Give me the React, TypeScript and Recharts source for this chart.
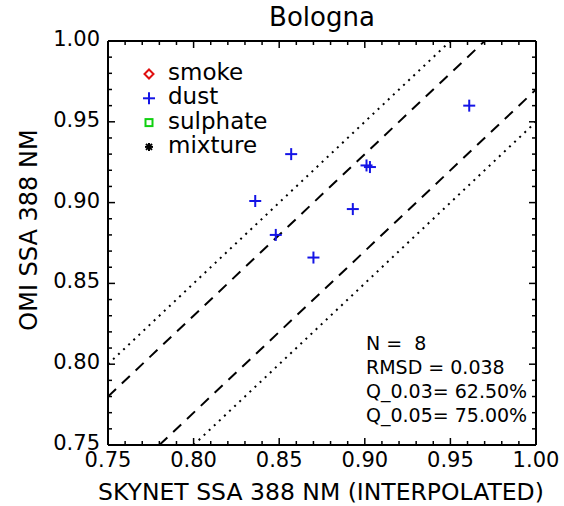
import { ScatterChart, Scatter, XAxis, YAxis, ReferenceLine, Legend } from 'recharts';

type Pt = { x: number; y: number };

const CATEGORIES = ['smoke', 'dust', 'sulphate', 'mixture'];
const SMOKE: Pt[] = [];
const DUST: Pt[] = [
  { x: 0.961, y: 0.960 },
  { x: 0.857, y: 0.930 },
  { x: 0.901, y: 0.923 },
  { x: 0.903, y: 0.922 },
  { x: 0.836, y: 0.901 },
  { x: 0.893, y: 0.896 },
  { x: 0.848, y: 0.880 },
  { x: 0.870, y: 0.866 },
];
const SULPHATE: Pt[] = [];
const MIXTURE: Pt[] = [];

const TICKS = [
  0.75, 0.76, 0.77, 0.78, 0.79, 0.8, 0.81, 0.82, 0.83, 0.84, 0.85, 0.86, 0.87,
  0.88, 0.89, 0.9, 0.91, 0.92, 0.93, 0.94, 0.95, 0.96, 0.97, 0.98, 0.99, 1.0,
];
const DOMAIN: [number, number] = [0.75, 1.0];
const DASHED_OFFSETS = [0.03, -0.03];
const DOTTED_OFFSETS = [0.05, -0.05];
const STATS = ['N =  8', 'RMSD = 0.038', 'Q_0.03= 62.50%', 'Q_0.05= 75.00%'];

const FONT = '"DejaVu Sans", Verdana, sans-serif';
const COLORS: Record<string, string> = {
  smoke: '#e01010',
  dust: '#1414e6',
  sulphate: '#10d010',
  mixture: '#000',
};

const isMajor = (v: number) => Math.round(v * 100) % 5 === 0;

// segment of y = x + d clipped to the square domain
function band(d: number) {
  const x0 = Math.max(DOMAIN[0], DOMAIN[0] - d);
  const x1 = Math.min(DOMAIN[1], DOMAIN[1] - d);
  return [{ x: x0, y: x0 + d }, { x: x1, y: x1 + d }];
}

function Marker({ kind, cx, cy }: { kind: string; cx: number; cy: number }) {
  const c = COLORS[kind];
  if (kind === 'smoke') {
    return <path d={`M${cx},${cy - 4.5}L${cx + 4.5},${cy}L${cx},${cy + 4.5}L${cx - 4.5},${cy}Z`} fill="none" stroke={c} strokeWidth={2} />;
  }
  if (kind === 'sulphate') {
    return <rect x={cx - 3.5} y={cy - 3.5} width={7} height={7} fill="none" stroke={c} strokeWidth={2} />;
  }
  if (kind === 'mixture') {
    return (
      <g stroke={c} strokeWidth={2}>
        <line x1={cx - 4} y1={cy} x2={cx + 4} y2={cy} />
        <line x1={cx} y1={cy - 4} x2={cx} y2={cy + 4} />
        <line x1={cx - 3} y1={cy - 3} x2={cx + 3} y2={cy + 3} />
        <line x1={cx - 3} y1={cy + 3} x2={cx + 3} y2={cy - 3} />
      </g>
    );
  }
  return (
    <g stroke={c} strokeWidth={2}>
      <line x1={cx - 6} y1={cy} x2={cx + 6} y2={cy} />
      <line x1={cx} y1={cy - 6} x2={cx} y2={cy + 6} />
    </g>
  );
}

function makeTick(side: 'bottom' | 'top' | 'left' | 'right') {
  return (props: any) => {
    const { x, y, payload } = props;
    const v = payload.value as number;
    const len = isMajor(v) ? 7 : 4;
    if (side === 'bottom') {
      return (
        <g>
          <line x1={x} y1={y} x2={x} y2={y - len} stroke="#000" strokeWidth={1.5} />
          {isMajor(v) && (
            <text x={x} y={y + 22} textAnchor="middle" fontSize={21} fontFamily={FONT} fill="#000">{v.toFixed(2)}</text>
          )}
        </g>
      );
    }
    if (side === 'top') return <line x1={x} y1={y} x2={x} y2={y + len} stroke="#000" strokeWidth={1.5} />;
    if (side === 'left') {
      return (
        <g>
          <line x1={x} y1={y} x2={x + len} y2={y} stroke="#000" strokeWidth={1.5} />
          {isMajor(v) && (
            <text x={x - 8} y={y + 5} textAnchor="end" fontSize={21} fontFamily={FONT} fill="#000">{v.toFixed(2)}</text>
          )}
        </g>
      );
    }
    return <line x1={x} y1={y} x2={x - len} y2={y} stroke="#000" strokeWidth={1.5} />;
  };
}

function LegendBox() {
  return (
    <svg width={150} height={105}>
      {CATEGORIES.map((name, i) => (
        <g key={name}>
          <Marker kind={name} cx={19} cy={19 + i * 24.3} />
          <text x={38} y={25 + i * 24.3} fontSize={23} fontFamily={FONT} fill="#000">{name}</text>
        </g>
      ))}
    </svg>
  );
}

const axisLine = { stroke: '#000', strokeWidth: 2 };

export default function App() {
  const series = [SMOKE, DUST, SULPHATE, MIXTURE];
  return (
    <div style={{ position: 'absolute', left: 0, top: 0, background: '#fff' }}>
      <ScatterChart width={564} height={506} margin={{ top: 31, right: 18, bottom: 31, left: 48 }}>
        <XAxis xAxisId="bottom" type="number" dataKey="x" domain={DOMAIN} ticks={TICKS} interval={0} allowDataOverflow
          height={30} tickSize={0} tickMargin={0} tickLine={false} axisLine={axisLine} tick={makeTick('bottom')} />
        <XAxis xAxisId="top" orientation="top" type="number" dataKey="x" domain={DOMAIN} ticks={TICKS} interval={0} allowDataOverflow
          height={10} tickSize={0} tickMargin={0} tickLine={false} axisLine={axisLine} tick={makeTick('top')} />
        <YAxis yAxisId="left" type="number" dataKey="y" domain={DOMAIN} ticks={TICKS} interval={0} allowDataOverflow
          width={60} tickSize={0} tickMargin={0} tickLine={false} axisLine={axisLine} tick={makeTick('left')} />
        <YAxis yAxisId="right" orientation="right" type="number" dataKey="y" domain={DOMAIN} ticks={TICKS} interval={0} allowDataOverflow
          width={10} tickSize={0} tickMargin={0} tickLine={false} axisLine={axisLine} tick={makeTick('right')} />
        {DOTTED_OFFSETS.map((d) => (
          <ReferenceLine key={`dot${d}`} xAxisId="bottom" yAxisId="left" segment={band(d)} ifOverflow="hidden"
            stroke="#000" strokeWidth={2} strokeDasharray="2 5" />
        ))}
        {DASHED_OFFSETS.map((d) => (
          <ReferenceLine key={`dash${d}`} xAxisId="bottom" yAxisId="left" segment={band(d)} ifOverflow="hidden"
            stroke="#000" strokeWidth={2} strokeDasharray="11 8" />
        ))}
        {CATEGORIES.map((name, i) => (
          <Scatter key={name} name={name} data={series[i]} xAxisId="bottom" yAxisId="left" isAnimationActive={false}
            shape={(p: any) => <Marker kind={name} cx={p.cx} cy={p.cy} />} />
        ))}
        <Legend layout="vertical" align="center" verticalAlign="middle"
          wrapperStyle={{ left: 130, top: 55, width: 150, height: 105 }} content={() => <LegendBox />} />
        <text x={322} y={26} textAnchor="middle" fontSize={26} fontFamily={FONT} fill="#000">Bologna</text>
        <text x={321} y={500} textAnchor="middle" fontSize={23.5} fontFamily={FONT} fill="#000">SKYNET SSA 388 NM (INTERPOLATED)</text>
        <text x={37} y={230} transform="rotate(-90 37 230)" textAnchor="middle" fontSize={24} fontFamily={FONT} fill="#000">OMI SSA 388 NM</text>
        {STATS.map((s, i) => (
          <text key={s} x={366} y={350 + i * 24} fontSize={19} fontFamily={FONT} fill="#000" style={{ whiteSpace: 'pre' }}>{s}</text>
        ))}
      </ScatterChart>
    </div>
  );
}
